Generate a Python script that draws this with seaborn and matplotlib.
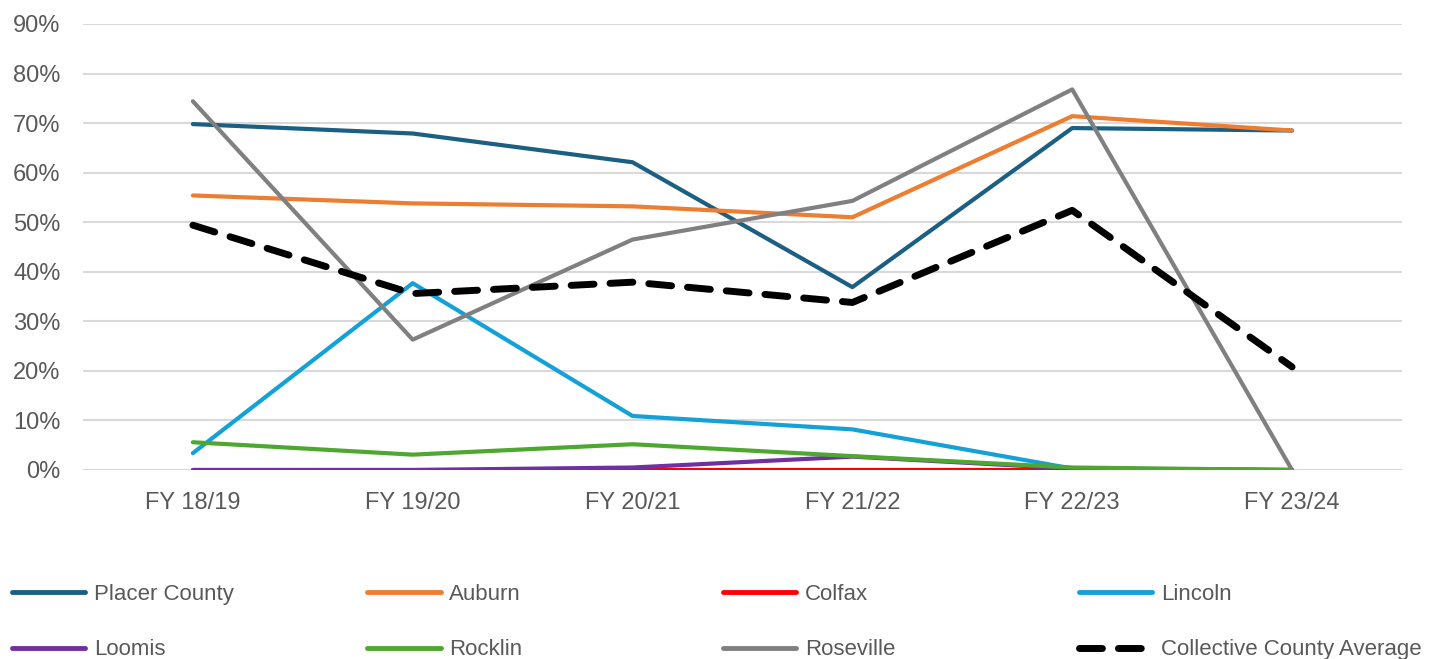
import numpy as np
import pandas as pd
import seaborn as sns
import matplotlib.pyplot as plt
from matplotlib.lines import Line2D
from matplotlib.ticker import PercentFormatter

# values (percent)
years = ['FY 18/19', 'FY 19/20', 'FY 20/21', 'FY 21/22', 'FY 22/23', 'FY 23/24']
placer = [69.8, 67.9, 62.1, 36.9, 69.0, 68.5]
auburn = [55.4, 53.8, 53.2, 51.0, 71.4, 68.5]
colfax = [0.0, 0.0, 0.0, 0.0, 0.0, 0.0]
lincoln = [3.4, 37.7, 10.9, 8.2, 0.3, 0.0]
loomis = [0.0, 0.0, 0.5, 2.7, 0.3, 0.0]
rocklin = [5.6, 3.1, 5.2, 2.8, 0.5, 0.0]
roseville = [74.4, 26.3, 46.5, 54.3, 76.8, 0.0]
average = [49.4, 35.6, 37.9, 33.8, 52.4, 20.8]

names = ['Placer County', 'Auburn', 'Colfax', 'Lincoln',
         'Loomis', 'Rocklin', 'Roseville', 'Collective County Average']
series = [placer, auburn, colfax, lincoln, loomis, rocklin, roseville, average]
colors = ['#1B5F83', '#ED7D31', '#FF0000', '#13A1D8',
          '#7030A0', '#4EA72E', '#808080', '#000000']

df = pd.DataFrame({'Year': years * len(names),
                   'Value': np.concatenate(series),
                   'Series': np.repeat(names, len(years))})

sns.set_style('white')
plt.rcParams['font.family'] = ['Liberation Sans', 'DejaVu Sans']
text_col = '#595959'
avg_dash = (3.3, 2.3)

fig = plt.figure(figsize=(14.4, 6.59), dpi=100)
ax = fig.add_axes([0.0576, 0.2868, 0.916, 0.6768])

for name, col in zip(names, colors):
    sub = df[df['Series'] == name]
    if name == 'Collective County Average':
        sns.lineplot(data=sub, x='Year', y='Value', ax=ax, color=col,
                     linewidth=5, sort=False)
        ax.lines[-1].set_dashes(avg_dash)
        ax.lines[-1].set_dash_capstyle('round')
    else:
        sns.lineplot(data=sub, x='Year', y='Value', ax=ax, color=col,
                     linewidth=3, sort=False, solid_capstyle='round')

ax.set_ylim(0, 90)
ax.set_yticks(np.arange(0, 91, 10))
ax.set_xlim(-0.5, len(years) - 0.5)
ax.yaxis.set_major_formatter(PercentFormatter(decimals=0))
ax.grid(axis='y', color='#D9D9D9', linewidth=1.5)
ax.set_axisbelow(True)
for s in ax.spines.values():
    s.set_visible(False)
ax.tick_params(axis='y', length=0, pad=16, labelsize=17, labelcolor=text_col)
ax.tick_params(axis='x', length=0, pad=16, labelsize=17, labelcolor=text_col)
ax.set_xlabel('')
ax.set_ylabel('')

# legend: 4 columns on an even grid, 2 rows
col_x = [0.008, 0.255, 0.502, 0.749]
for i in range(4):
    hs, ls = [], []
    for j in (i, i + 4):
        if j == 7:
            h = Line2D([], [], color=colors[j], linewidth=5, linestyle=(0, avg_dash),
                       dash_capstyle='round')
        else:
            h = Line2D([], [], color=colors[j], linewidth=3.5, solid_capstyle='round')
        hs.append(h)
        ls.append(names[j])
    fig.legend(hs, ls, loc='upper left', bbox_to_anchor=(col_x[i], 0.114),
               frameon=False, fontsize=16, handlelength=3.3, handletextpad=0.4,
               labelspacing=1.55, borderpad=0, borderaxespad=0, labelcolor=text_col)

fig.savefig('out.png', dpi=100)
